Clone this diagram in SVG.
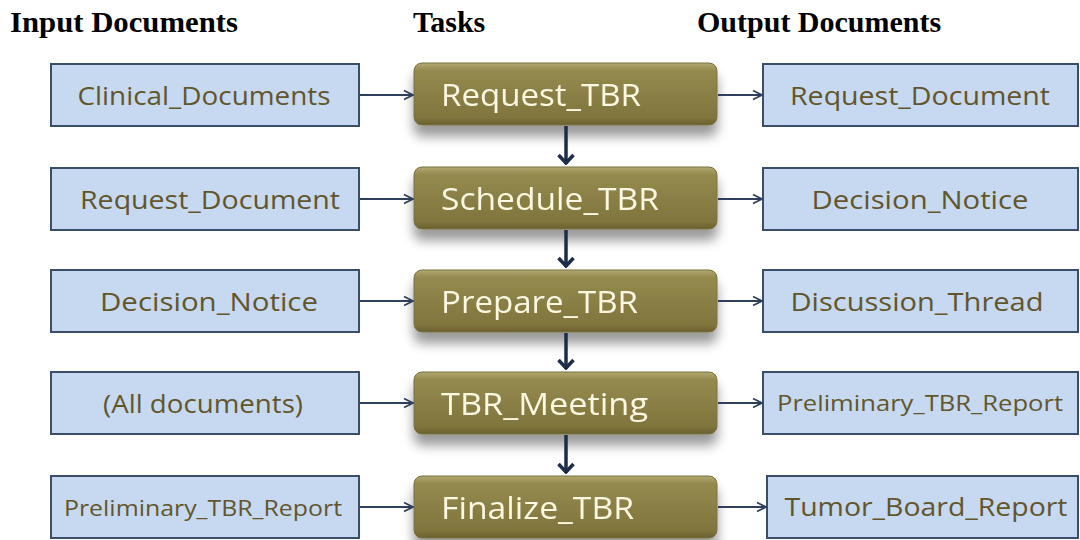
<svg xmlns="http://www.w3.org/2000/svg" width="1080" height="540" viewBox="0 0 1080 540">
<defs>
<linearGradient id="olive" x1="0" y1="0" x2="0" y2="1">
<stop offset="0" stop-color="#b2a972"/>
<stop offset="0.12" stop-color="#958a4f"/>
<stop offset="0.5" stop-color="#8a7f45"/>
<stop offset="0.88" stop-color="#80753d"/>
<stop offset="1" stop-color="#6a6030"/>
</linearGradient>
<filter id="shadow" x="-10%" y="-20%" width="120%" height="170%">
<feGaussianBlur in="SourceAlpha" stdDeviation="6"/>
<feOffset dx="0" dy="11" result="b"/>
<feComponentTransfer><feFuncA type="linear" slope="0.4"/></feComponentTransfer>
<feMerge><feMergeNode/><feMergeNode in="SourceGraphic"/></feMerge>
</filter>
<marker id="open" viewBox="0 0 12 12" refX="11" refY="6" markerWidth="12" markerHeight="12" markerUnits="userSpaceOnUse" orient="auto">
<path d="M2,1.5 L11,6 L2,10.5" fill="none" stroke="#2e3f5c" stroke-width="1.8"/>
</marker>
<marker id="down" viewBox="0 0 18 13" refX="9" refY="12" markerWidth="18" markerHeight="13" markerUnits="userSpaceOnUse" orient="0">
<path d="M1.5,3 L9,11 L16.5,3" fill="none" stroke="#1c2d48" stroke-width="3.5"/>
</marker>
</defs>
<style>
.hdr{font-family:"Liberation Serif",serif;font-weight:bold;font-size:30px;fill:#000}
.doc rect{fill:#c6d9f1;stroke:#3a4d6b;stroke-width:2}
.doc text{font-family:"Open Sans","Liberation Sans",sans-serif;font-size:26px;fill:#63552b;text-anchor:middle}
.doc text.sm{font-size:21px}
.task rect{fill:url(#olive);stroke:#77703e;stroke-width:1}
.task text{font-family:"Open Sans","Liberation Sans",sans-serif;font-size:31px;fill:#fcf8e2}
.conn line{stroke:#2e3f5c;stroke-width:2}
.conn line.v{stroke:#1c2d48;stroke-width:3.5}
</style>
<rect width="1080" height="540" fill="#ffffff"/>
<g id="headers">
<text class="hdr" x="10" y="32" textLength="228" lengthAdjust="spacingAndGlyphs">Input Documents</text>
<text class="hdr" x="413" y="32">Tasks</text>
<text class="hdr" x="697" y="32">Output Documents</text>
</g>
<g id="in1" class="doc"><rect x="51" y="64" width="308" height="62"/><text x="204" y="105" textLength="253" lengthAdjust="spacingAndGlyphs">Clinical_Documents</text></g>
<g id="in2" class="doc"><rect x="51" y="168" width="308" height="62"/><text x="210" y="209" textLength="260" lengthAdjust="spacingAndGlyphs">Request_Document</text></g>
<g id="in3" class="doc"><rect x="51" y="270" width="308" height="62"/><text x="209" y="311" textLength="218" lengthAdjust="spacingAndGlyphs">Decision_Notice</text></g>
<g id="in4" class="doc"><rect x="51" y="372" width="308" height="62"/><text x="203" y="413" textLength="200" lengthAdjust="spacingAndGlyphs">(All documents)</text></g>
<g id="in5" class="doc"><rect x="51" y="476" width="308" height="62"/><text class="sm" x="203" y="516" textLength="278" lengthAdjust="spacingAndGlyphs">Preliminary_TBR_Report</text></g>
<g id="t1" class="task" filter="url(#shadow)"><rect x="414" y="63" width="303" height="62" rx="8"/><text x="441" y="106" textLength="200" lengthAdjust="spacingAndGlyphs">Request_TBR</text></g>
<g id="t2" class="task" filter="url(#shadow)"><rect x="414" y="167" width="303" height="62" rx="8"/><text x="441" y="210" textLength="218" lengthAdjust="spacingAndGlyphs">Schedule_TBR</text></g>
<g id="t3" class="task" filter="url(#shadow)"><rect x="414" y="270" width="303" height="62" rx="8"/><text x="441" y="313" textLength="197" lengthAdjust="spacingAndGlyphs">Prepare_TBR</text></g>
<g id="t4" class="task" filter="url(#shadow)"><rect x="414" y="372" width="303" height="62" rx="8"/><text x="441" y="415" textLength="207" lengthAdjust="spacingAndGlyphs">TBR_Meeting</text></g>
<g id="t5" class="task" filter="url(#shadow)"><rect x="414" y="476" width="303" height="62" rx="8"/><text x="441" y="519" textLength="193" lengthAdjust="spacingAndGlyphs">Finalize_TBR</text></g>
<g id="out1" class="doc"><rect x="763" y="64" width="315" height="62"/><text x="920" y="105" textLength="260" lengthAdjust="spacingAndGlyphs">Request_Document</text></g>
<g id="out2" class="doc"><rect x="763" y="168" width="315" height="62"/><text x="920" y="209" textLength="217" lengthAdjust="spacingAndGlyphs">Decision_Notice</text></g>
<g id="out3" class="doc"><rect x="763" y="270" width="315" height="62"/><text x="917" y="311" textLength="253" lengthAdjust="spacingAndGlyphs">Discussion_Thread</text></g>
<g id="out4" class="doc"><rect x="763" y="372" width="315" height="62"/><text class="sm" x="920" y="411" textLength="286" lengthAdjust="spacingAndGlyphs">Preliminary_TBR_Report</text></g>
<g id="out5" class="doc"><rect x="767" y="476" width="311" height="62"/><text x="926" y="516" textLength="283" lengthAdjust="spacingAndGlyphs">Tumor_Board_Report</text></g>
<g id="connectors" class="conn">
<line x1="360" y1="95" x2="413" y2="95" marker-end="url(#open)"/>
<line x1="360" y1="199" x2="413" y2="199" marker-end="url(#open)"/>
<line x1="360" y1="301" x2="413" y2="301" marker-end="url(#open)"/>
<line x1="360" y1="403" x2="413" y2="403" marker-end="url(#open)"/>
<line x1="360" y1="507" x2="413" y2="507" marker-end="url(#open)"/>
<line x1="718" y1="95" x2="762" y2="95" marker-end="url(#open)"/>
<line x1="718" y1="199" x2="762" y2="199" marker-end="url(#open)"/>
<line x1="718" y1="301" x2="762" y2="301" marker-end="url(#open)"/>
<line x1="718" y1="403" x2="762" y2="403" marker-end="url(#open)"/>
<line x1="718" y1="507" x2="766" y2="507" marker-end="url(#open)"/>
<line class="v" x1="566" y1="126" x2="566" y2="164" marker-end="url(#down)"/>
<line class="v" x1="566" y1="230" x2="566" y2="267" marker-end="url(#down)"/>
<line class="v" x1="566" y1="333" x2="566" y2="369" marker-end="url(#down)"/>
<line class="v" x1="566" y1="435" x2="566" y2="473" marker-end="url(#down)"/>
</g>
</svg>
